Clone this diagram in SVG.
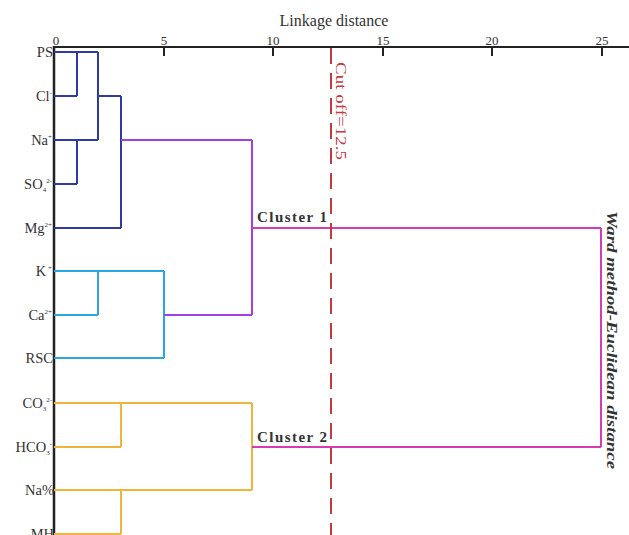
<svg xmlns="http://www.w3.org/2000/svg" width="629" height="535" viewBox="0 0 629 535">
<style>
.lab{font-family:"Liberation Serif","Times New Roman",serif;font-size:14.5px;fill:#333;text-anchor:end}
.sup{font-size:7px}
.tick{font-family:"Liberation Serif","Times New Roman",serif;font-size:13px;fill:#333;text-anchor:middle}
.blue{stroke:#2e3aa6;stroke-width:2;fill:none}
.cyan{stroke:#2aa6e0;stroke-width:2;fill:none}
.orange{stroke:#f0b43a;stroke-width:2;fill:none}
.purple{stroke:#a43ee0;stroke-width:2;fill:none}
.mag{stroke:#d63ab4;stroke-width:2;fill:none}
.clu{font-family:"Liberation Serif","Times New Roman",serif;font-size:15px;font-weight:bold;fill:#333}
</style>
<rect width="629" height="535" fill="#fff"/>
<g id="axis">
<line x1="54" y1="47" x2="629" y2="47" stroke="#222" stroke-width="2"/>
<line x1="54" y1="46" x2="54" y2="535" stroke="#222" stroke-width="2.5"/>
<g stroke="#222" stroke-width="2">
<line x1="164" y1="47" x2="164" y2="56"/>
<line x1="273" y1="47" x2="273" y2="56"/>
<line x1="383" y1="47" x2="383" y2="56"/>
<line x1="492" y1="47" x2="492" y2="56"/>
<line x1="602" y1="47" x2="602" y2="56"/>
</g>
<text class="tick" x="56" y="45">0</text>
<text class="tick" x="164" y="45">5</text>
<text class="tick" x="273" y="45">10</text>
<text class="tick" x="383" y="45">15</text>
<text class="tick" x="492" y="45">20</text>
<text class="tick" x="602" y="45">25</text>
<text x="334" y="26" font-family="Liberation Serif,Times New Roman,serif" font-size="16" fill="#333" text-anchor="middle">Linkage distance</text>
</g>
<g id="labels">
<text class="lab" x="53" y="57">PS</text>
<text class="lab" x="52" y="101">Cl<tspan class="sup" dy="-6">-</tspan></text>
<text class="lab" x="52" y="145">Na<tspan class="sup" dy="-6">+</tspan></text>
<text class="lab" x="52" y="189">SO<tspan class="sup" dy="3">4</tspan><tspan class="sup" dy="-9">2-</tspan></text>
<text class="lab" x="52" y="233">Mg<tspan class="sup" dy="-6">2+</tspan></text>
<text class="lab" x="52" y="276">K<tspan class="sup" dy="-6"> +</tspan></text>
<text class="lab" x="52" y="320">Ca<tspan class="sup" dy="-6">2+</tspan></text>
<text class="lab" x="53" y="363">RSC</text>
<text class="lab" x="52" y="408">CO<tspan class="sup" dy="3">3</tspan><tspan class="sup" dy="-9">2-</tspan></text>
<text class="lab" x="52" y="452">HCO<tspan class="sup" dy="3">3</tspan><tspan class="sup" dy="-9">-</tspan></text>
<text class="lab" x="54" y="495">Na%</text>
<text class="lab" x="54" y="539">MH</text>
</g>
<g id="connectors">
<path class="blue" d="M54,52H98M77,52V96M54,96H77M98,52V140M54,140H98M77,140V184M54,184H77M98,96H121M121,96V228M54,228H121"/>
<path class="cyan" d="M54,271H164M98,271V315M54,315H98M164,271V358M54,358H164"/>
<path class="orange" d="M54,403H252M121,403V447M54,447H121M252,403V490M54,490H252M121,490V534M54,534H121"/>
<path class="purple" d="M121,140H252M252,140V315M164,315H252"/>
<path class="mag" d="M252,228H601M252,447H601M601,228V447"/>
<line x1="331" y1="48" x2="331" y2="535" stroke="#c43a3e" stroke-width="2" stroke-dasharray="16,9"/>
</g>
<g id="cluster1"><text class="clu" x="257" y="222" textLength="70" lengthAdjust="spacing">Cluster 1</text></g>
<g id="cluster2"><text class="clu" x="257" y="442" textLength="70" lengthAdjust="spacing">Cluster 2</text></g>
<g id="cutoff"><text transform="translate(336,62) rotate(90)" font-family="Liberation Serif,Times New Roman,serif" font-size="15" fill="#c43a3e" textLength="98" lengthAdjust="spacingAndGlyphs">Cut off=12.5</text></g>
<g id="method"><text transform="translate(607,340) rotate(90)" font-family="Liberation Serif,Times New Roman,serif" font-size="15" font-weight="bold" font-style="italic" fill="#333" text-anchor="middle" textLength="258" lengthAdjust="spacingAndGlyphs">Ward method-Euclidean distance</text></g>
</svg>
